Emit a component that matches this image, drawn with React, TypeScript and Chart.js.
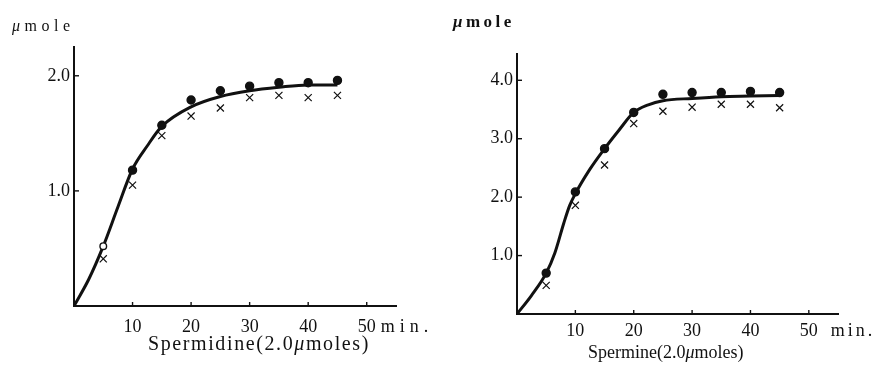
import React, { useEffect, useRef } from 'react';
import { Chart, registerables } from 'chart.js';

Chart.register(...registerables);

// ---------- data ----------
const X_TICKS = [10, 20, 30, 40, 50];
const X_UNIT = 'min.';
const Y_UNIT = ['μ', 'mole'];

const SAMPLE_TIMES = [5, 10, 15, 20, 25, 30, 35, 40, 45];

// Spermidine panel
const SPD_Y_TICKS = [1, 2];
const SPD_CURVE_X = [0, 2.5, 5, 7.5, 10, 12.5, 15, 20, 25, 30, 35, 40, 45];
const SPD_CURVE_Y = [0, 0.23, 0.52, 0.86, 1.19, 1.39, 1.56, 1.73, 1.82, 1.87, 1.9, 1.92, 1.92];
const SPD_DOTS = [0.52, 1.18, 1.57, 1.79, 1.87, 1.91, 1.94, 1.94, 1.96];
const SPD_CROSSES = [0.41, 1.05, 1.48, 1.65, 1.72, 1.81, 1.83, 1.81, 1.83];
const SPD_TITLE = ['Spermidine(2.0', 'μ', 'moles)'];

// Spermine panel
const SPM_Y_TICKS = [1, 2, 3, 4];
const SPM_CURVE_X = [0, 2.5, 5, 6.5, 8, 9, 10, 12.5, 15, 17.5, 20, 22.5, 25, 30, 35, 40, 45];
const SPM_CURVE_Y = [0, 0.32, 0.7, 1.05, 1.55, 1.85, 2.06, 2.48, 2.83, 3.15, 3.45, 3.58, 3.65, 3.69, 3.72, 3.73, 3.74];
const SPM_DOTS = [0.7, 2.09, 2.83, 3.45, 3.76, 3.79, 3.79, 3.81, 3.79];
const SPM_CROSSES = [0.49, 1.86, 2.55, 3.26, 3.47, 3.54, 3.59, 3.59, 3.53];
const SPM_TITLE = ['Spermine(2.0', 'μ', 'moles)'];

const INK = '#111111';
const SERIF = '"Liberation Serif", "Times New Roman", serif';

type Spec = {
  left: number;
  width: number;
  yMax: number;
  yTicks: number[];
  curveX: number[];
  curveY: number[];
  dots: number[];
  crosses: number[];
  firstHollow: boolean;
  title: string[];
  padTop: number;
  padRight: number;
  yAxisW: number;
  xAxisH: number;
  xPad: number;
  yPad: number;
  tickSize: number;
  unitX: number;
  unitY: number;
  unitSize: number;
  unitBold: boolean;
  unitSpacing: number;
  titleX: number;
  titleY: number;
  titleSize: number;
  titleSpacing: number;
  minOffset: number;
  minSpacing: number;
};

const SPECS: Spec[] = [
  {
    left: 0, width: 437, yMax: 2.25, yTicks: SPD_Y_TICKS,
    curveX: SPD_CURVE_X, curveY: SPD_CURVE_Y, dots: SPD_DOTS, crosses: SPD_CROSSES,
    firstHollow: true, title: SPD_TITLE,
    padTop: 47, padRight: 41, yAxisW: 74, xAxisH: 72, xPad: 10, yPad: 4, tickSize: 18,
    unitX: 12, unitY: 31, unitSize: 16, unitBold: false, unitSpacing: 4.5,
    titleX: 148, titleY: 350, titleSize: 20, titleSpacing: 1.6,
    minOffset: 14, minSpacing: 5,
  },
  {
    left: 437, width: 438, yMax: 4.45, yTicks: SPM_Y_TICKS,
    curveX: SPM_CURVE_X, curveY: SPM_CURVE_Y, dots: SPM_DOTS, crosses: SPM_CROSSES,
    firstHollow: false, title: SPM_TITLE,
    padTop: 54, padRight: 37, yAxisW: 80, xAxisH: 64, xPad: 6, yPad: 4, tickSize: 18,
    unitX: 16, unitY: 27, unitSize: 17, unitBold: true, unitSpacing: 3.5,
    titleX: 151, titleY: 358, titleSize: 18, titleSpacing: 0,
    minOffset: 22, minSpacing: 3,
  },
];

function drawSegments(
  ctx: CanvasRenderingContext2D,
  segs: string[],
  x: number,
  y: number,
  size: number,
  bold: boolean,
  spacing: number
) {
  let cx = x;
  segs.forEach((s) => {
    const italic = s === 'μ';
    ctx.font = `${italic ? 'italic ' : ''}${bold ? 'bold ' : ''}${size}px ${SERIF}`;
    (ctx as any).letterSpacing = `${spacing}px`;
    ctx.fillText(s, cx, y);
    cx += ctx.measureText(s).width;
  });
}

function decorPlugin(p: Spec) {
  return {
    id: 'decor',
    afterDraw(chart: any) {
      const ctx: CanvasRenderingContext2D = chart.ctx;
      const xs = chart.scales.x;
      const ys = chart.scales.y;
      const area = chart.chartArea;
      ctx.save();
      ctx.strokeStyle = INK;
      ctx.fillStyle = INK;
      ctx.lineWidth = 1.4;
      xs.ticks.forEach((t: any) => {
        const px = xs.getPixelForValue(t.value);
        ctx.beginPath();
        ctx.moveTo(px, area.bottom);
        ctx.lineTo(px, area.bottom - 4);
        ctx.stroke();
      });
      ys.ticks.forEach((t: any) => {
        const py = ys.getPixelForValue(t.value);
        ctx.beginPath();
        ctx.moveTo(area.left, py);
        ctx.lineTo(area.left + 5, py);
        ctx.stroke();
      });
      // "min." after the last x tick label
      ctx.textAlign = 'left';
      ctx.textBaseline = 'middle';
      ctx.font = `${p.tickSize}px ${SERIF}`;
      (ctx as any).letterSpacing = `${p.minSpacing}px`;
      const lastPx = xs.getPixelForValue(X_TICKS[X_TICKS.length - 1]);
      ctx.fillText(X_UNIT, lastPx + p.minOffset, xs.top + p.xPad + (p.tickSize * 1.2) / 2);
      // y unit and panel title
      ctx.textBaseline = 'alphabetic';
      drawSegments(ctx, Y_UNIT, p.unitX, p.unitY, p.unitSize, p.unitBold, p.unitSpacing);
      drawSegments(ctx, p.title, p.titleX, p.titleY, p.titleSize, false, p.titleSpacing);
      ctx.restore();
    },
  };
}

function makeConfig(p: Spec): any {
  const tickFont = { family: SERIF, size: p.tickSize };
  return {
    type: 'scatter',
    data: {
      datasets: [
        {
          label: 'dots',
          data: SAMPLE_TIMES.map((t, i) => ({ x: t, y: p.dots[i] })),
          pointStyle: 'circle',
          pointRadius: (c: any) => (p.firstHollow && c.dataIndex === 0 ? 3.3 : 4),
          pointBackgroundColor: (c: any) => (p.firstHollow && c.dataIndex === 0 ? '#ffffff' : INK),
          pointBorderColor: INK,
          pointBorderWidth: 1.4,
          showLine: false,
        },
        {
          label: 'crosses',
          data: SAMPLE_TIMES.map((t, i) => ({ x: t, y: p.crosses[i] })),
          pointStyle: 'crossRot',
          pointRadius: 5,
          pointBorderColor: INK,
          pointBorderWidth: 1.2,
          showLine: false,
        },
        {
          label: 'curve',
          data: p.curveX.map((x, i) => ({ x, y: p.curveY[i] })),
          showLine: true,
          borderColor: INK,
          borderWidth: 3,
          pointRadius: 0,
          cubicInterpolationMode: 'monotone',
          fill: false,
        },
      ],
    },
    options: {
      responsive: false,
      animation: false,
      layout: { padding: { top: p.padTop, right: p.padRight, left: 0, bottom: 0 } },
      plugins: {
        legend: { display: false },
        tooltip: { enabled: false },
        title: { display: false },
      },
      scales: {
        x: {
          type: 'linear',
          min: 0,
          max: 55,
          grid: { display: false, drawTicks: false },
          border: { display: true, color: INK, width: 2 },
          ticks: {
            font: tickFont,
            color: INK,
            padding: p.xPad,
            maxRotation: 0,
            autoSkip: false,
            callback: (v: number) => String(v),
          },
          afterBuildTicks: (s: any) => {
            s.ticks = X_TICKS.map((v) => ({ value: v }));
          },
          afterFit: (s: any) => {
            s.height = p.xAxisH;
          },
        },
        y: {
          type: 'linear',
          min: 0,
          max: p.yMax,
          grid: { display: false, drawTicks: false },
          border: { display: true, color: INK, width: 2 },
          ticks: {
            font: tickFont,
            color: INK,
            padding: p.yPad,
            autoSkip: false,
            callback: (v: number) => Number(v).toFixed(1),
          },
          afterBuildTicks: (s: any) => {
            s.ticks = p.yTicks.map((v) => ({ value: v }));
          },
          afterFit: (s: any) => {
            s.width = p.yAxisW;
          },
        },
      },
    },
    plugins: [decorPlugin(p)],
  };
}

function Panel({ spec }: { spec: Spec }) {
  const ref = useRef<HTMLCanvasElement | null>(null);
  useEffect(() => {
    if (!ref.current) return;
    const chart = new Chart(ref.current, makeConfig(spec));
    return () => chart.destroy();
  }, [spec]);
  return (
    <canvas
      ref={ref}
      width={spec.width}
      height={378}
      style={{ position: 'absolute', left: spec.left, top: 0, width: spec.width, height: 378, display: 'block' }}
    />
  );
}

export default function App() {
  return (
    <div style={{ position: 'absolute', left: 0, top: 0, width: 875, height: 378, background: '#ffffff' }}>
      {SPECS.map((s, i) => (
        <Panel key={i} spec={s} />
      ))}
    </div>
  );
}
